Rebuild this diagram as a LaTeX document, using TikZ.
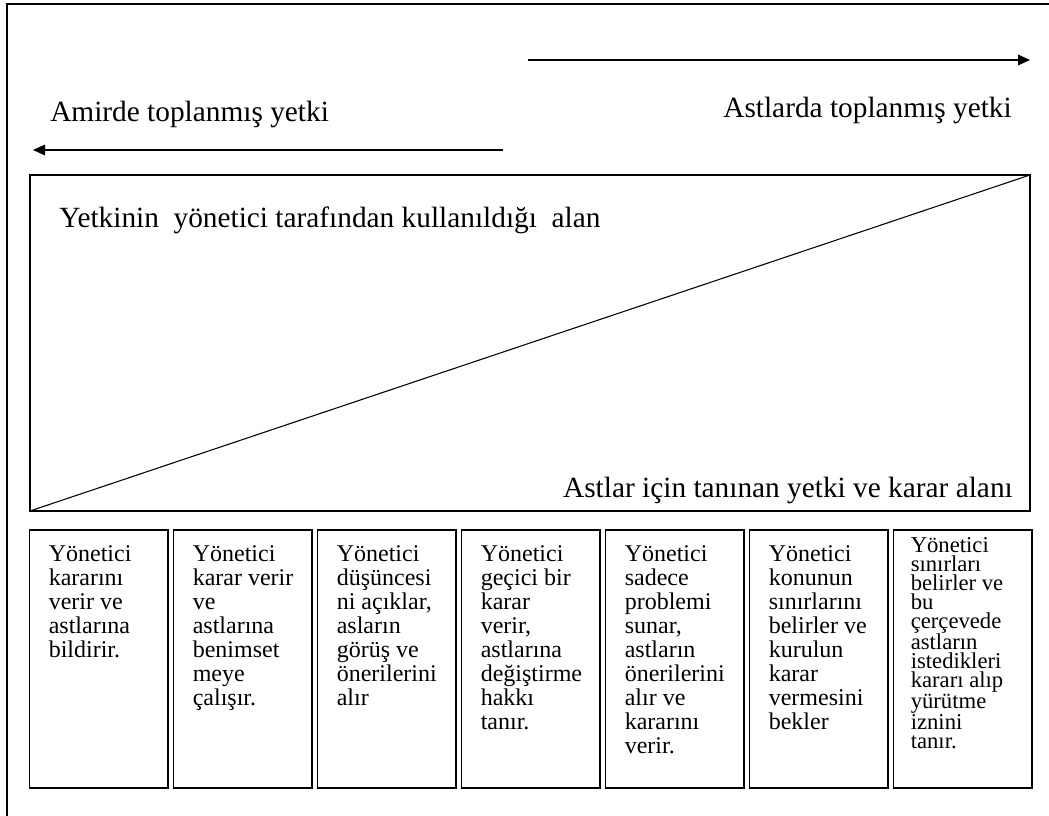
\documentclass[tikz,border=0pt]{standalone}
\usepackage{fontspec}
\setmainfont{Liberation Serif}
\usetikzlibrary{arrows.meta,positioning}
\tikzset{kutu/.style={draw,line width=1.3pt,minimum width=104pt,minimum height=193.5pt,inner sep=0pt,anchor=north west},
yazi/.style={font=\fontsize{18}{18}\selectfont,align=left,inner sep=0pt,anchor=north west},
baslik/.style={font=\fontsize{22}{26}\selectfont,inner sep=0pt},
ok/.style={-{Triangle[length=9pt,width=8pt]},line width=0.8pt}}
\begin{document}
\begin{tikzpicture}[x=0.75pt,y=0.75pt]
\useasboundingbox (0,0) rectangle (1049,816);
\draw[line width=1.5pt] (7,0)--(7,812)--(1049,812);
% yetki oklari
\coordinate (s1) at (528,756);\coordinate (e1) at (1030,756);\draw[ok] (s1)--(e1);
\coordinate (s2) at (503,666);\coordinate (e2) at (33,666);\draw[ok] (s2)--(e2);
\node[baslik,anchor=base west] (amir) at (50,694) {Amirde toplanmış yetki};
\node[baslik,anchor=base east] (ast) at (1012,698) {Astlarda toplanmış yetki};
% yetki alani
\coordinate (A) at (30,305);\coordinate (B) at (1030,641);
\draw[line width=1.5pt] (A) rectangle (B);\draw[line width=0.8pt] (A)--(B);
\node[baslik,anchor=base west] (ust) at (59,588) {Yetkinin\ \ yönetici tarafından kullanıldığı\ \ alan};
\node[baslik,anchor=base east] (alt) at (1013,318) {Astlar için tanınan yetki ve karar alanı};
% kutular
\foreach \i/\txt in {1/{Yönetici\\kararını\\verir ve\\astlarına\\bildirir.},
2/{Yönetici\\karar verir\\ve\\astlarına\\benimset\\meye\\çalışır.},
3/{Yönetici\\düşüncesi\\ni açıklar,\\asların\\görüş ve\\önerilerini\\alır},
4/{Yönetici\\geçici bir\\karar\\verir,\\astlarına\\değiştirme\\hakkı\\tanır.},
5/{Yönetici\\sadece\\problemi\\sunar,\\astların\\önerilerini\\alır ve\\kararını\\verir.},
6/{Yönetici\\konunun\\sınırlarını\\belirler ve\\kurulun\\karar\\vermesini\\bekler}}{
\node[kutu] (k\i) at ({28.5+144*(\i-1)},287) {};
\node[yazi] (y\i) at ([shift={(20,-16)}]k\i.north west) {\txt};}
\node[kutu] (k7) at (892.5,287) {};
\node[yazi,font=\fontsize{17}{14.2}\selectfont] (y7) at ([shift={(18,-8)}]k7.north west)
{Yönetici\\sınırları\\belirler ve\\bu\\çerçevede\\astların\\istedikleri\\kararı alıp\\yürütme\\iznini\\tanır.};
\end{tikzpicture}
\end{document}
